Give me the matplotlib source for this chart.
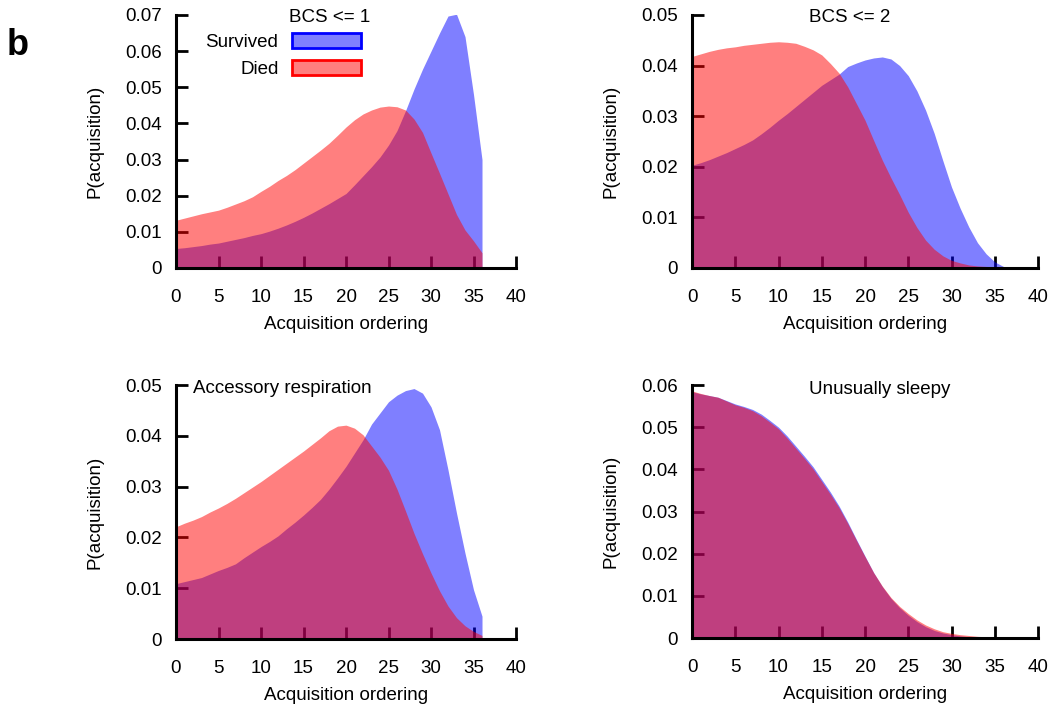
import matplotlib.pyplot as plt
from matplotlib.patches import Patch
from matplotlib.ticker import FuncFormatter

plt.rcParams['font.family'] = ['Liberation Sans', 'DejaVu Sans']

# acquisition ordering positions
order = list(range(37))

# BCS <= 1
bcs1_survived = [.0054, .0056, .0059, .0062, .0066, .0069, .0074, .0079, .0084, .0090,
                 .0095, .0102, .0110, .0119, .0129, .0140, .0152, .0165, .0178, .0192,
                 .0206, .0230, .0255, .0280, .0307, .0340, .0380, .0435, .0495, .0550,
                 .0600, .0650, .0697, .0702, .0640, .0480, .0300]
bcs1_died = [.0132, .0138, .0144, .0150, .0155, .0160, .0168, .0177, .0186, .0197,
             .0212, .0226, .0242, .0256, .0272, .0290, .0308, .0326, .0345, .0367,
             .0390, .0410, .0426, .0437, .0445, .0448, .0446, .0437, .0412, .0375,
             .0318, .0262, .0205, .0148, .0105, .0075, .0042]

# BCS <= 2
bcs2_survived = [.0203, .0208, .0214, .0221, .0228, .0236, .0244, .0253, .0265, .0278,
                 .0292, .0305, .0319, .0333, .0347, .0361, .0372, .0383, .0398, .0405,
                 .0411, .0415, .0417, .0413, .0400, .0380, .0350, .0312, .0266, .0212,
                 .0160, .0118, .0081, .0050, .0028, .0012, .0003]
bcs2_died = [.0418, .0423, .0428, .0432, .0435, .0437, .0440, .0442, .0444, .0446,
             .0447, .0446, .0444, .0438, .0431, .0421, .0404, .0385, .0358, .0325,
             .0292, .0252, .0213, .0178, .0145, .0110, .0080, .0055, .0037, .0024,
             .0015, .0010, .0006, .0004, .0003, .0002, .0001]

# Accessory respiration
resp_survived = [.0109, .0113, .0117, .0121, .0128, .0135, .0141, .0148, .0160, .0171,
                 .0182, .0192, .0203, .0217, .0230, .0244, .0259, .0275, .0295, .0317,
                 .0340, .0366, .0392, .0423, .0445, .0467, .0480, .0489, .0493, .0484,
                 .0457, .0412, .0333, .0248, .0169, .0097, .0045]
resp_died = [.0221, .0228, .0234, .0241, .0250, .0258, .0267, .0277, .0288, .0299,
             .0310, .0322, .0334, .0346, .0358, .0370, .0383, .0396, .0410, .0419,
             .0421, .0415, .0402, .0380, .0358, .0332, .0295, .0252, .0208, .0168,
             .0130, .0095, .0065, .0042, .0026, .0015, .0007]

# Unusually sleepy
sleepy_survived = [.0584, .0579, .0575, .0571, .0563, .0555, .0549, .0542, .0531, .0516,
                   .0500, .0479, .0455, .0431, .0406, .0376, .0346, .0313, .0275, .0234,
                   .0194, .0155, .0122, .0094, .0072, .0054, .0039, .0027, .0018, .0012,
                   .0008, .0005, .0003, .0002, .0001, .0001, .0000]
sleepy_died = [.0586, .0580, .0575, .0571, .0562, .0553, .0547, .0539, .0527, .0512,
               .0496, .0474, .0450, .0426, .0401, .0371, .0341, .0309, .0272, .0232,
               .0193, .0155, .0123, .0096, .0075, .0058, .0043, .0031, .0022, .0015,
               .0011, .0008, .0006, .0004, .0003, .0002, .0001]

panels = [
    # survived, died, ymax, title, title pos, ha, axes rect
    (bcs1_survived, bcs1_died, 0.07, 'BCS <= 1', (18.1, 0.0692), 'center',
     [0.1673, 0.6199, 0.3232, 0.3589]),
    (bcs2_survived, bcs2_died, 0.05, 'BCS <= 2', (18.2, 0.0494), 'center',
     [0.6578, 0.6199, 0.3289, 0.3589]),
    (resp_survived, resp_died, 0.05, 'Accessory respiration', (2.0, 0.0494), 'left',
     [0.1673, 0.0936, 0.3232, 0.3603]),
    (sleepy_survived, sleepy_died, 0.06, 'Unusually sleepy', (21.7, 0.0590), 'center',
     [0.6578, 0.0950, 0.3289, 0.3589]),
]

fs = 13.5
fig = plt.figure(figsize=(10.52, 7.05), dpi=100)

for i, (surv, died, ymax, title, tpos, ha, rect) in enumerate(panels):
    ax = fig.add_axes(rect)
    ax.fill_between(order, surv, color='blue', alpha=0.5, lw=0)
    ax.fill_between(order, died, color='red', alpha=0.5, lw=0)
    ax.set_xlim(0, 40)
    ax.set_ylim(0, ymax)
    ax.set_xticks(range(0, 41, 5))
    ax.set_yticks([k * 0.01 for k in range(int(round(ymax * 100)) + 1)])
    ax.yaxis.set_major_formatter(FuncFormatter(lambda v, p: '0' if v == 0 else f'{v:.2f}'))
    ax.set_axisbelow(True)
    for s in ['top', 'right']:
        ax.spines[s].set_visible(False)
    for s in ['left', 'bottom']:
        ax.spines[s].set_linewidth(2.2)
    ax.tick_params(direction='in', length=8.5, width=2, labelsize=fs)
    ax.tick_params(axis='x', pad=15)
    ax.tick_params(axis='y', pad=10)
    ax.set_xlabel('Acquisition ordering', fontsize=fs, labelpad=7)
    ax.set_ylabel('P(acquisition)', fontsize=fs, labelpad=16)
    ax.text(tpos[0], tpos[1], title, ha=ha, va='center', fontsize=fs)

    if i == 0:
        handles = [Patch(facecolor=(0, 0, 1, 0.5), edgecolor='blue', lw=2, label='Survived'),
                   Patch(facecolor=(1, 0, 0, 0.5), edgecolor='red', lw=2, label='Died')]
        ax.legend(handles=handles, loc='upper right', bbox_to_anchor=(0.544, 0.93),
                  frameon=False, markerfirst=False, fontsize=fs, borderpad=0,
                  borderaxespad=0, handlelength=3.7, handleheight=0.85,
                  handletextpad=0.7, labelspacing=0.5)

fig.text(0.006, 0.935, 'b', fontsize=26, fontweight='bold', va='center')

fig.savefig('out.png', dpi=100)
